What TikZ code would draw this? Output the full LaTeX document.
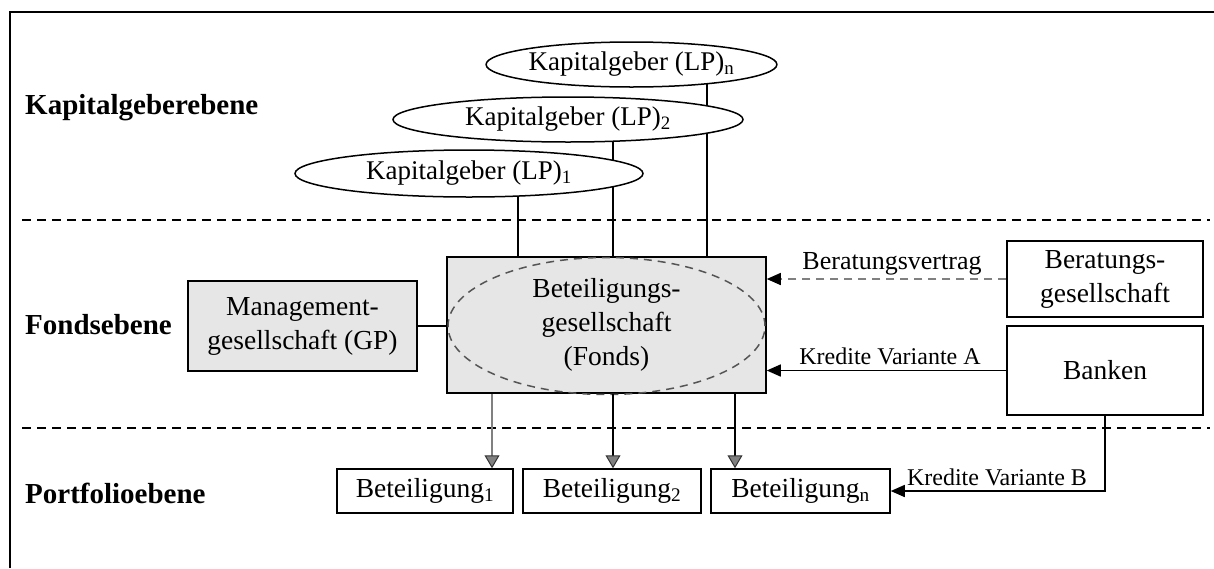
\documentclass[tikz,border=0pt]{standalone}
\usepackage{fontspec}
\setmainfont{Liberation Serif}
\usetikzlibrary{shapes.geometric,arrows.meta,backgrounds}

\definecolor{boxgray}{HTML}{E6E6E6}
\definecolor{ringgray}{HTML}{555555}
\definecolor{stemgray}{HTML}{808080}

\tikzset{
  box/.style={draw, line width=1.5pt, inner sep=0pt, align=center,
              font=\fontsize{27.5}{34}\selectfont},
  graybox/.style={box, fill=boxgray},
  lp/.style={ellipse, draw, fill=white, line width=1.5pt, inner sep=0pt,
             font=\fontsize{27}{30}\selectfont},
  level/.style={anchor=west, inner sep=0pt, font=\bfseries\fontsize{29}{30}\selectfont},
  lbl/.style={inner sep=0pt, font=\fontsize{24}{26}\selectfont},
  conn/.style={line width=1.5pt},
  sep/.style={line width=1.5pt, dash pattern=on 9pt off 6pt},
  flow/.style={conn, -{Triangle[width=12pt,length=14pt]}},
  feed/.style={conn, -{Triangle[width=15pt,length=13pt,fill=stemgray,color=black!80,line width=1pt]}},
}

\begin{document}
\begin{tikzpicture}[x=1pt,y=-1pt]
  \useasboundingbox (0,0) rectangle (1214,568);

  % outer frame (top and left edges)
  \draw[line width=2pt] (10,568) -- (10,12) -- (1214,12);

  % level separators
  \draw[sep] (22,220) -- (1210,220);
  \draw[sep] (22,428) -- (1210,428);

  % level titles
  \node[level] (lvlK) at (25,108) {Kapitalgeberebene};
  \node[level] (lvlF) at (25,325) {Fondsebene};
  \node[level] (lvlP) at (25,493) {Portfolioebene};

  % fund level
  \node[graybox, minimum width=319pt, minimum height=136pt] (fonds) at (606.5,325)
       {Beteiligungs-\\gesellschaft\\(Fonds)};
  \node[ellipse, draw=ringgray, line width=1.5pt, dash pattern=on 8pt off 6pt,
        minimum width=317pt, minimum height=137pt, inner sep=0pt] (ring) at (606.5,326) {};
  \node[graybox, minimum width=229pt, minimum height=90pt] (mgmt) at (302.5,326)
       {Management-\\gesellschaft (GP)};
  \node[box, minimum width=196pt, minimum height=76pt] (ber) at (1105,279)
       {Beratungs-\\gesellschaft};
  \node[box, minimum width=196pt, minimum height=89pt] (bank) at (1105,370.5) {Banken};

  % investors
  \node[lp, minimum width=279pt, minimum height=45pt] (lpn) at (631.5,64.5)
       {Kapitalgeber (LP)\textsubscript{n}};
  \node[lp, minimum width=350pt, minimum height=45pt] (lp2) at (568,119.5)
       {Kapitalgeber (LP)\textsubscript{2}};
  \node[lp, minimum width=348pt, minimum height=47pt] (lp1) at (469,173.5)
       {Kapitalgeber (LP)\textsubscript{1}};

  % portfolio level
  \node[box, minimum width=176pt, minimum height=44pt] (bet1) at (425,491)
       {Beteiligung\textsubscript{1}};
  \node[box, minimum width=178pt, minimum height=44pt] (bet2) at (612,491)
       {Beteiligung\textsubscript{2}};
  \node[box, minimum width=179pt, minimum height=44pt] (betn) at (800.5,491)
       {Beteiligung\textsubscript{n}};

  % column positions of the vertical connectors
  \coordinate (c1) at (518,0);
  \coordinate (c2) at (613,0);
  \coordinate (c3) at (707,0);
  \coordinate (d1) at (492,0);
  \coordinate (d2) at (613,0);
  \coordinate (d3) at (735,0);

  \begin{scope}[on background layer]
    \draw[conn] (lp1.center -| c1) -- (fonds.north -| c1);
    \draw[conn] (lp2.center -| c2) -- (fonds.north -| c2);
    \draw[conn] (lpn.center -| c3) -- (fonds.north -| c3);
  \end{scope}

  \draw[conn] (mgmt.east) -- (fonds.west |- mgmt.east);

  \draw[feed, draw=stemgray] (fonds.south -| d1) -- (bet1.north -| d1);
  \draw[feed] (fonds.south -| d2) -- (bet2.north -| d2);
  \draw[feed] (fonds.south -| d3) -- (betn.north -| d3);

  \draw[conn, draw=stemgray, dash pattern=on 8pt off 6pt, -{Triangle[width=12pt,length=14pt,fill=black,color=black]}]
       (ber.west) -- (fonds.east |- ber.west);
  \draw[flow] (bank.west) -- (fonds.east |- bank.west);
  \draw[flow] (bank.south) |- (betn.east);

  \node[lbl, font=\fontsize{26}{26}\selectfont] (lblBer) at (892,264) {Beratungsvertrag};
  \node[lbl] (lblA) at (890,356) {Kredite Variante A};
  \node[lbl] (lblB) at (997,477) {Kredite Variante B};
\end{tikzpicture}
\end{document}
